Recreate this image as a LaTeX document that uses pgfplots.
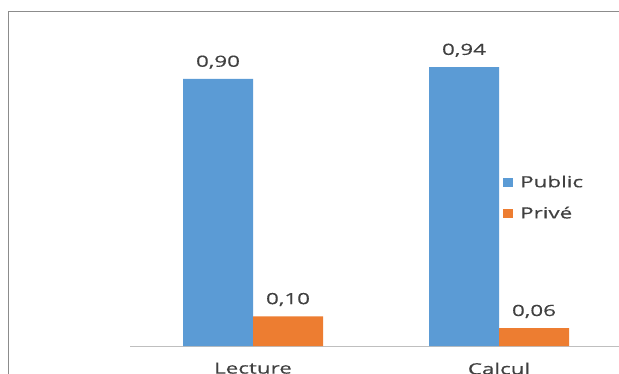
\documentclass[border=0pt]{standalone}
\usepackage{pgfplots}
\pgfplotsset{compat=1.18}
\usepackage{fontspec}
\setmainfont[FakeStretch=1.45, FakeBold=0.4]{Open Sans}
\definecolor{cblue}{HTML}{5B9BD5}
\definecolor{corange}{HTML}{ED7D31}
\definecolor{ctext}{HTML}{404040}
\definecolor{cframe}{HTML}{8C8C8C}
\definecolor{caxis}{HTML}{BFBFBF}
\begin{document}
\fontsize{15.5}{18}\selectfont
\begin{tikzpicture}
\path[use as bounding box] (0,0) rectangle (619bp,374bp);
\draw[cframe, line width=1bp] (8bp,-5bp) -- (8bp,362bp) -- (640bp,362bp);
\begin{axis}[
  at={(130bp,28bp)}, anchor=south west,
  scale only axis, width=492bp, height=326.4bp,
  xmin=-0.5, xmax=1.5, ymin=0, ymax=1.1,
  ybar=0pt, bar width=70bp,
  axis x line*=bottom, axis y line=none,
  x axis line style={caxis, line width=1bp, -},
  xtick={0,1}, xticklabels={Lecture,Calcul},
  major x tick style={draw=none},
  extra x ticks={-0.5,0.5,1.5}, extra x tick labels={},
  extra x tick style={major tick length=5bp, tick align=outside, tick style={caxis, line width=1bp}},
  xticklabel style={text=ctext, font=\fontsize{15.5}{18}\selectfont, yshift=-7bp},
  nodes near coords={\pgfmathprintnumber[fixed, fixed zerofill, precision=2, use comma, assume math mode=true]{\pgfplotspointmeta}},
  every node near coord/.append style={text=ctext, font=\fontsize{15.5}{18}\selectfont, inner sep=0pt, yshift=10bp},
  legend style={at={(0.752,0.535)}, anchor=north west, draw=none, fill=none,
    font=\fontsize{15.5}{18}\selectfont, text=ctext, row sep=13bp,
    nodes={inner xsep=7bp}},
  legend cell align=left,
  legend image code/.code={\fill[#1, draw=none] (0bp,-4bp) rectangle (10bp,5bp);},
  clip=false,
]
\addplot[fill=cblue, draw=none] coordinates {(0,0.90) (1,0.94)};
\addplot[fill=corange, draw=none] coordinates {(0,0.10) (1,0.06)};
\legend{Public, Privé}
\end{axis}
\end{tikzpicture}
\end{document}
